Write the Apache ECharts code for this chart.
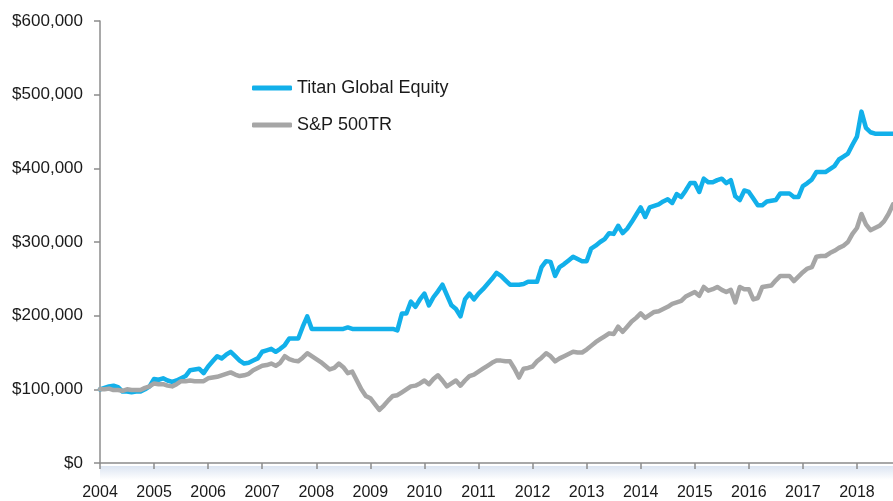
<!DOCTYPE html>
<html>
<head>
<meta charset="utf-8">
<script src="https://cdn.jsdelivr.net/npm/echarts@6/dist/echarts.min.js"></script>
<style>
  html, body { margin: 0; padding: 0; background: #fff; }
  #chart { width: 893px; height: 501px; }
</style>
</head>
<body>
<div id="chart"></div>
<script>
// monthly values in $ thousands, Jan 2004 .. Sep 2018
var titan = [
  100, 102, 104, 105, 103, 97, 97, 96, 97, 97, 100, 104,
  114, 113, 115, 112, 110, 112, 115, 118, 126, 127, 128, 122,
  131, 138, 145, 142, 147, 151, 145, 139, 135, 136, 139, 142,
  151, 153, 155, 151, 155, 160, 169, 169, 169, 185, 199, 182,
  182, 182, 182, 182, 182, 182, 182, 184, 182, 182, 182, 182,
  182, 182, 182, 182, 182, 182, 180, 203, 203, 219, 212, 222,
  230, 214, 225, 233, 242, 228, 214, 209, 199, 222, 230, 222,
  230, 236, 243, 250, 258, 254, 248, 242, 242, 242, 243, 246,
  246, 246, 266, 274, 273, 254, 266, 270, 275, 280, 277, 274,
  274, 291, 295, 300, 304, 312, 311, 322, 312, 318, 327, 337,
  347, 334, 347, 349, 351, 355, 358, 353, 365, 361, 370, 380,
  380, 368, 386, 381, 381, 384, 386, 380, 384, 362, 357, 370,
  368, 359, 350, 350, 355, 356, 357, 366, 366, 366, 361, 361,
  376, 380, 385, 395, 395, 395, 399, 403, 412, 416, 420, 432,
  443, 477, 455, 449, 447, 447, 447, 447, 447
];
var sp500 = [
  100, 100, 101, 99, 99, 98, 100, 99, 99, 99, 102, 104,
  108, 107, 107, 105, 104, 107, 111, 111, 112, 111, 111, 111,
  115, 116, 117, 119, 121, 123, 120, 118, 119, 121, 126, 129,
  132, 133, 135, 132, 136, 145, 141, 139, 138, 143, 149, 145,
  141, 137, 132, 127, 129, 135, 130, 122, 124, 112, 100, 91,
  88, 80, 72, 78, 85, 91, 92, 96, 100, 104, 105, 108,
  112, 107, 114, 119, 112, 104, 108, 112, 105, 112, 118, 120,
  124, 128, 132, 136, 139, 139, 138, 138, 128, 116, 128, 129,
  131, 138, 143, 149, 145, 138, 142, 145, 148, 151, 150, 150,
  154, 159, 164, 168, 172, 176, 175, 185, 178, 185, 192, 197,
  203, 197, 201, 205, 206, 209, 212, 216, 218, 220, 226, 229,
  232, 227, 239, 234, 236, 239, 235, 232, 235, 218, 239, 236,
  236, 222, 224, 239, 240, 241, 248, 254, 254, 254, 247, 253,
  259, 264, 266, 280, 281, 281, 285, 288, 292, 295, 300, 311,
  319, 338, 324, 316, 319, 322, 328, 338, 351
];
var years = ['2004', '2005', '2006', '2007', '2008', '2009', '2010', '2011',
  '2012', '2013', '2014', '2015', '2016', '2017', '2018'];
var seriesNames = ['Titan Global Equity', 'S&P 500TR'];

var months = [];
for (var i = 0; i < titan.length; i++) {
  months.push(years[0] * 1 + Math.floor(i / 12) + '-' + (i % 12 + 1));
}

function money(v) {
  return '$' + String(v).replace(/\B(?=(\d{3})+(?!\d))/g, ',');
}
function isJan(idx) { return idx % 12 === 0; }

var chart = echarts.init(document.getElementById('chart'));
var option = {
  animation: false,
  backgroundColor: '#fff',
  grid: { left: 100, right: 0, top: 21, bottom: 36, containLabel: false },
  legend: {
    orient: 'vertical',
    left: 247,
    top: 74,
    itemWidth: 40,
    itemHeight: 5,
    itemGap: 19,
    icon: 'roundRect',
    textStyle: { fontFamily: 'Liberation Sans', fontSize: 18, color: '#1a1a1a' },
    data: seriesNames
  },
  graphic: [{
    type: 'rect',
    left: 100, top: 466,
    shape: { width: 793, height: 14 },
    style: {
      fill: new echarts.graphic.LinearGradient(0, 0, 0, 1, [
        { offset: 0, color: '#dce5f2' },
        { offset: 1, color: '#ffffff' }
      ])
    },
    z: 0
  }],
  xAxis: {
    type: 'category',
    boundaryGap: false,
    data: months,
    axisLine: { lineStyle: { color: '#8c8c8c', width: 1.5 } },
    axisTick: { show: true, length: 6, interval: isJan, lineStyle: { color: '#8c8c8c', width: 1.5 } },
    axisLabel: {
      interval: isJan,
      margin: 22,
      fontFamily: 'Liberation Sans',
      fontSize: 16,
      color: '#1a1a1a',
      formatter: function (v, idx) { return years[Math.floor(idx / 12)]; }
    },
    splitLine: { show: false }
  },
  yAxis: {
    type: 'value',
    min: 0,
    max: 600000,
    interval: 100000,
    axisLine: { show: true, lineStyle: { color: '#8c8c8c', width: 1.5 } },
    axisTick: { show: true, length: 6, lineStyle: { color: '#8c8c8c', width: 1.5 } },
    axisLabel: {
      margin: 17,
      fontFamily: 'Liberation Sans',
      fontSize: 17,
      color: '#1a1a1a',
      formatter: money
    },
    splitLine: { show: false }
  },
  series: [
    {
      name: seriesNames[0],
      type: 'line',
      symbol: 'none',
      color: '#12b0ea',
      lineStyle: { width: 4.5, join: 'round', cap: 'round' },
      data: titan.map(function (v) { return v * 1000; })
    },
    {
      name: seriesNames[1],
      type: 'line',
      symbol: 'none',
      color: '#a6a6a6',
      lineStyle: { width: 4.5, join: 'round', cap: 'round' },
      data: sp500.map(function (v) { return v * 1000; })
    }
  ]
};
chart.setOption(option);
</script>
</body>
</html>
